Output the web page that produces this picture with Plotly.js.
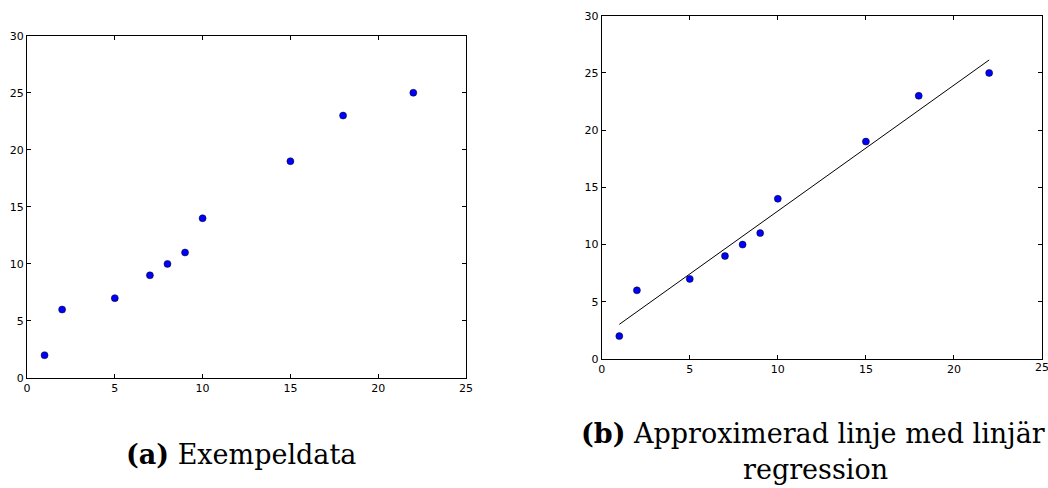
<!DOCTYPE html>
<html>
<head>
<meta charset="utf-8">
<script src="https://cdn.plot.ly/plotly-3.0.1.min.js"></script>
<style>html,body{margin:0;padding:0;background:#fff;}#chart{width:1048px;height:488px;}</style>
</head>
<body>
<div id="chart"></div>
<script>
var xData = [1, 2, 5, 7, 8, 9, 10, 15, 18, 22];
var yData = [2, 6, 7, 9, 10, 11, 14, 19, 23, 25];
var tickVals = [0, 5, 10, 15, 20, 25, 30];
var edgeTick = 25;
var captionA = '<b>(a)</b> Exempeldata';
var captionB1 = '<b>(b)</b> Approximerad linje med linjär';
var captionB2 = 'regression';

// least-squares fit from the data
var n = xData.length;
var mx = xData.reduce(function(a,b){return a+b;},0)/n;
var my = yData.reduce(function(a,b){return a+b;},0)/n;
var sxy = 0, sxx = 0;
for (var i = 0; i < n; i++) { sxy += (xData[i]-mx)*(yData[i]-my); sxx += (xData[i]-mx)*(xData[i]-mx); }
var slope = sxy/sxx, intercept = my - slope*mx;
var xFit = [Math.min.apply(null, xData), Math.max.apply(null, xData)];
var yFit = xFit.map(function(x){return intercept + slope*x;});

var marker = {color: '#0000ff', size: 7, line: {color: '#000', width: 0.5}};
var traces = [
  {x: xData, y: yData, mode: 'markers', type: 'scatter', marker: marker, xaxis: 'x', yaxis: 'y', hoverinfo: 'none'},
  {x: xData, y: yData, mode: 'markers', type: 'scatter', marker: marker, xaxis: 'x2', yaxis: 'y2', hoverinfo: 'none'},
  {x: xFit, y: yFit, mode: 'lines', type: 'scatter', line: {color: '#000', width: 1}, xaxis: 'x2', yaxis: 'y2', hoverinfo: 'none'}
];

var tickFont = {family: 'DejaVu Sans', size: 11, color: '#000'};
function ax(domain, range, anchor) {
  return {
    domain: domain, range: range, anchor: anchor,
    showgrid: false, zeroline: false,
    showline: true, linecolor: '#000', linewidth: 1, mirror: 'ticks',
    ticks: 'inside', ticklen: 4, tickwidth: 1, tickcolor: '#000',
    tickmode: 'array', tickvals: tickVals,
    tickfont: tickFont, ticklabelstandoff: 0,
    fixedrange: true
  };
}

var H = 488, W = 1048;
var capFont = {family: 'DejaVu Serif', size: 27, color: '#000'};
function cap(text, cx, cy) {
  return {text: text, xref: 'paper', yref: 'paper', x: cx/W, y: (H-cy)/H, xanchor: 'center', yanchor: 'middle',
          showarrow: false, font: capFont};
}
var layout = {
  width: W, height: H,
  margin: {l: 0, r: 0, t: 0, b: 0},
  paper_bgcolor: '#fff', plot_bgcolor: '#fff',
  showlegend: false,
  font: {family: 'DejaVu Serif'},
  xaxis: ax([27/W, 466/W], [0, 25], 'y'),
  yaxis: ax([(H-378)/H, (H-35.7)/H], [0, 30], 'x'),
  xaxis2: ax([601.7/W, 1042/W], [0, 25], 'y2'),
  yaxis2: ax([(H-359)/H, (H-15.7)/H], [0, 30], 'x2'),
  annotations: [
    cap(captionA, 241, 454),
    cap(captionB1, 813, 433),
    cap(captionB2, 815, 469),
    {text: String(edgeTick), xref: 'x2', yref: 'paper', x: edgeTick, y: (H-360)/H, xanchor: 'center', yanchor: 'top',
     showarrow: false, font: tickFont, borderpad: 0}
  ]
};
layout.xaxis2.ticktext = tickVals.map(function(v){return v < edgeTick ? String(v) : '';});

Plotly.newPlot('chart', traces, layout, {staticPlot: true, displayModeBar: false});
</script>
</body>
</html>
